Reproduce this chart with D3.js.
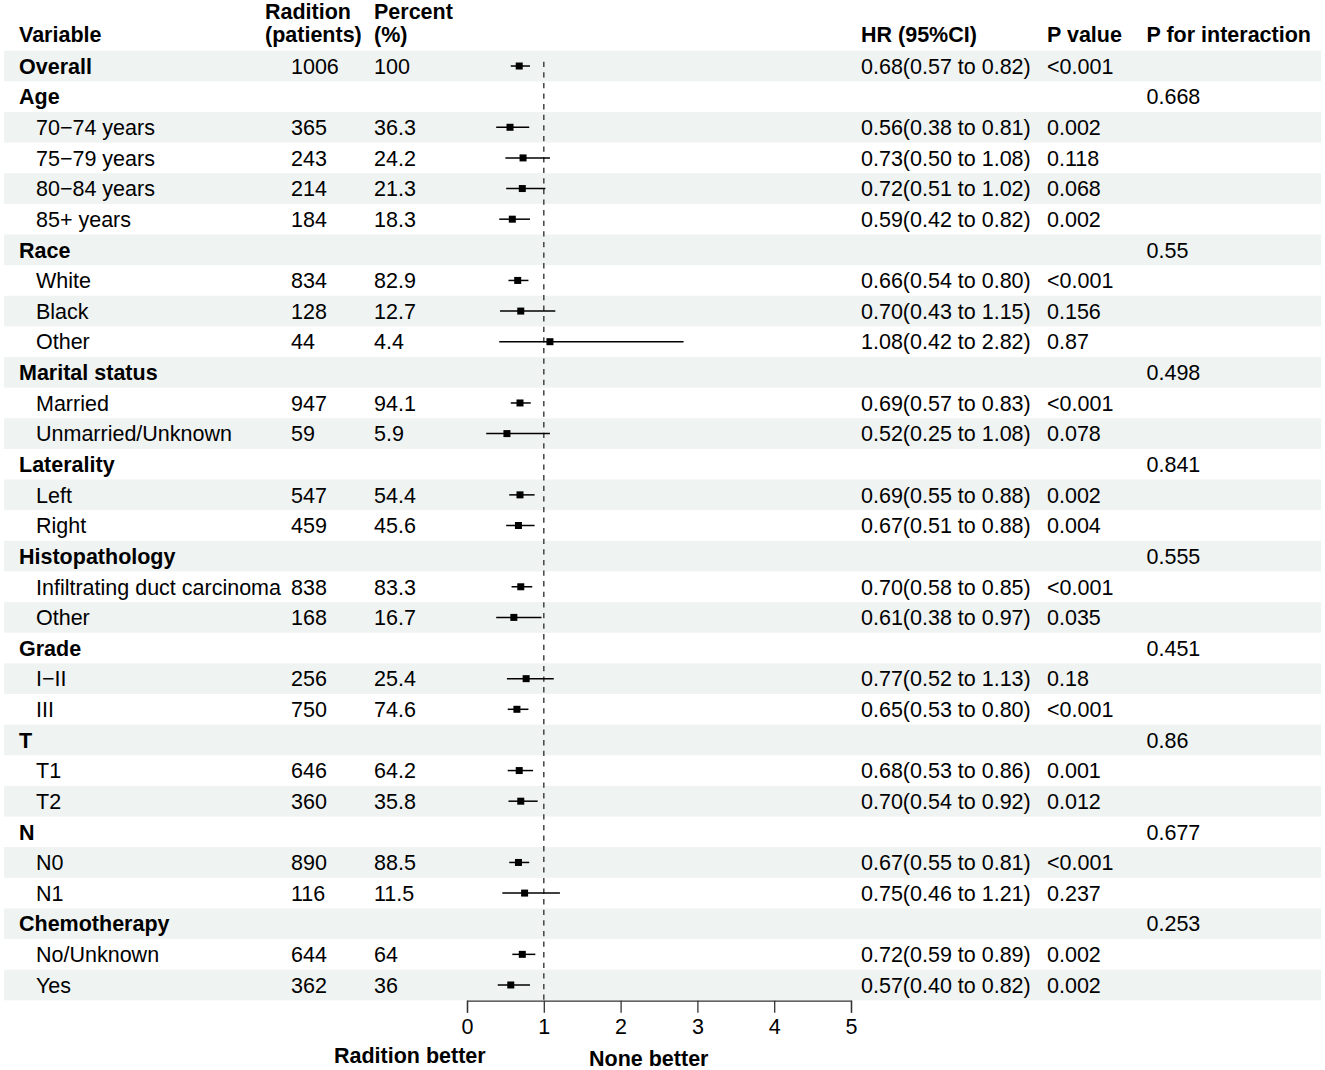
<!DOCTYPE html>
<html>
<head>
<meta charset="utf-8">
<script src="https://cdn.jsdelivr.net/npm/d3@7"></script>
<style>
  body { margin: 0; background: #fff; }
  svg text { font-family: "Liberation Sans", Arial, sans-serif; font-size: 21.5px; fill: #000; }
  .bold { font-weight: bold; }
</style>
</head>
<body>
<div id="graph"></div>
<script>
// rows of the table, top to bottom
const variables = ["Overall", "Age", "70\u221274 years", "75\u221279 years", "80\u221284 years", "85+ years",
  "Race", "White", "Black", "Other", "Marital status", "Married", "Unmarried/Unknown",
  "Laterality", "Left", "Right", "Histopathology", "Infiltrating duct carcinoma", "Other",
  "Grade", "I\u2212II", "III", "T", "T1", "T2", "N", "N0", "N1", "Chemotherapy", "No/Unknown", "Yes"];
const isHeading = [1, 1, 0, 0, 0, 0, 1, 0, 0, 0, 1, 0, 0, 1, 0, 0, 1, 0, 0, 1, 0, 0, 1, 0, 0, 1, 0, 0, 1, 0, 0];
const patients = [1006, null, 365, 243, 214, 184, null, 834, 128, 44, null, 947, 59, null, 547, 459,
  null, 838, 168, null, 256, 750, null, 646, 360, null, 890, 116, null, 644, 362];
const percent = [100, null, 36.3, 24.2, 21.3, 18.3, null, 82.9, 12.7, 4.4, null, 94.1, 5.9, null, 54.4, 45.6,
  null, 83.3, 16.7, null, 25.4, 74.6, null, 64.2, 35.8, null, 88.5, 11.5, null, 64, 36];
const hr = [0.68, null, 0.56, 0.73, 0.72, 0.59, null, 0.66, 0.70, 1.08, null, 0.69, 0.52, null, 0.69, 0.67,
  null, 0.70, 0.61, null, 0.77, 0.65, null, 0.68, 0.70, null, 0.67, 0.75, null, 0.72, 0.57];
const lower = [0.57, null, 0.38, 0.50, 0.51, 0.42, null, 0.54, 0.43, 0.42, null, 0.57, 0.25, null, 0.55, 0.51,
  null, 0.58, 0.38, null, 0.52, 0.53, null, 0.53, 0.54, null, 0.55, 0.46, null, 0.59, 0.40];
const upper = [0.82, null, 0.81, 1.08, 1.02, 0.82, null, 0.80, 1.15, 2.82, null, 0.83, 1.08, null, 0.88, 0.88,
  null, 0.85, 0.97, null, 1.13, 0.80, null, 0.86, 0.92, null, 0.81, 1.21, null, 0.89, 0.82];
const pValue = ["<0.001", "", "0.002", "0.118", "0.068", "0.002", "", "<0.001", "0.156", "0.87", "", "<0.001", "0.078",
  "", "0.002", "0.004", "", "<0.001", "0.035", "", "0.18", "<0.001", "", "0.001", "0.012", "", "<0.001", "0.237",
  "", "0.002", "0.002"];
const pInteraction = ["", "0.668", "", "", "", "", "0.55", "", "", "", "0.498", "", "", "0.841", "", "",
  "0.555", "", "", "0.451", "", "", "0.86", "", "", "0.677", "", "", "0.253", "", ""];
const xTicks = [0, 1, 2, 3, 4, 5];

function forest() {
  const W = 1325, H = 1070;
  const fs = 21.5;
  const cols = { variable: 19, sub: 36, patients: 291, percent: 374, hr: 861, p: 1047, pint: 1146.5 };

  const svg = d3.select("#graph").append("svg")
    .attr("width", W).attr("height", H);

  const y = d3.scaleBand()
    .domain(d3.range(variables.length))
    .range([50.7, 1000.3])
    .paddingInner(0);
  const x = d3.scaleLinear().domain([0, 5]).range([467, 851]);

  const mid = i => y(i) + y.bandwidth() / 2;
  const base = i => mid(i) + fs * 0.36;

  // striped background
  svg.append("g").selectAll("rect")
    .data(d3.range(variables.length).filter(i => i % 2 === 0))
    .join("rect")
    .attr("x", 4).attr("width", 1317)
    .attr("y", i => y(i)).attr("height", y.bandwidth())
    .attr("fill", "#eff3f2");

  // headers
  const head = svg.append("g").attr("class", "bold");
  const headers = [
    [cols.variable, ["Variable"]],
    [265, ["Radition", "(patients)"]],
    [cols.percent, ["Percent", "(%)"]],
    [cols.hr, ["HR (95%CI)"]],
    [cols.p, ["P value"]],
    [cols.pint, ["P for interaction"]]
  ];
  headers.forEach(([hx, lines]) => {
    lines.forEach((t, k) => {
      head.append("text")
        .attr("x", hx)
        .attr("y", 41.5 - (lines.length - 1 - k) * 22.5)
        .text(t);
    });
  });

  const rows = svg.append("g").selectAll("g")
    .data(d3.range(variables.length))
    .join("g");

  rows.append("text")
    .attr("class", i => isHeading[i] ? "bold" : null)
    .attr("x", i => isHeading[i] ? cols.variable : cols.sub)
    .attr("y", base)
    .text(i => variables[i]);

  rows.append("text").attr("x", cols.patients).attr("y", base)
    .text(i => patients[i] == null ? "" : patients[i]);
  rows.append("text").attr("x", cols.percent).attr("y", base)
    .text(i => percent[i] == null ? "" : String(percent[i]));
  rows.append("text").attr("x", cols.hr).attr("y", base)
    .text(i => hr[i] == null ? "" :
      hr[i].toFixed(2) + "(" + lower[i].toFixed(2) + " to " + upper[i].toFixed(2) + ")");
  rows.append("text").attr("x", cols.p).attr("y", base).text(i => pValue[i]);
  rows.append("text").attr("x", cols.pint).attr("y", base).text(i => pInteraction[i]);

  // reference line at HR = 1
  svg.append("line")
    .attr("x1", x(1)).attr("x2", x(1))
    .attr("y1", 61.7).attr("y2", y.range()[1])
    .attr("stroke", "#444").attr("stroke-width", 1.5)
    .attr("stroke-dasharray", "5.3,5.3");

  // estimates
  const est = d3.range(variables.length).filter(i => hr[i] != null);
  svg.append("g").selectAll("line")
    .data(est).join("line")
    .attr("x1", i => x(lower[i])).attr("x2", i => x(upper[i]))
    .attr("y1", mid).attr("y2", mid)
    .attr("stroke", "#000").attr("stroke-width", 1.5);
  const box = 7;
  svg.append("g").selectAll("rect")
    .data(est).join("rect")
    .attr("x", i => x(hr[i]) - box / 2).attr("y", i => mid(i) - box / 2)
    .attr("width", box).attr("height", box)
    .attr("fill", "#000");

  // axis
  const axis = svg.append("g")
    .attr("transform", "translate(0," + 1000.7 + ")")
    .call(d3.axisBottom(x).tickValues(xTicks).tickSize(12).tickPadding(6).tickFormat(d3.format("d")));
  axis.select(".domain").attr("stroke", "#333").attr("stroke-width", 1.3);
  axis.selectAll(".tick line").attr("stroke", "#333").attr("stroke-width", 1.3);
  axis.selectAll(".tick text")
    .attr("font-family", "Liberation Sans, Arial, sans-serif")
    .attr("font-size", fs).attr("fill", "#000");

  svg.append("text").attr("class", "bold")
    .attr("x", 334).attr("y", 1063).text("Radition better");
  svg.append("text").attr("class", "bold")
    .attr("x", 589).attr("y", 1066).text("None better");
}

forest();
</script>
</body>
</html>
